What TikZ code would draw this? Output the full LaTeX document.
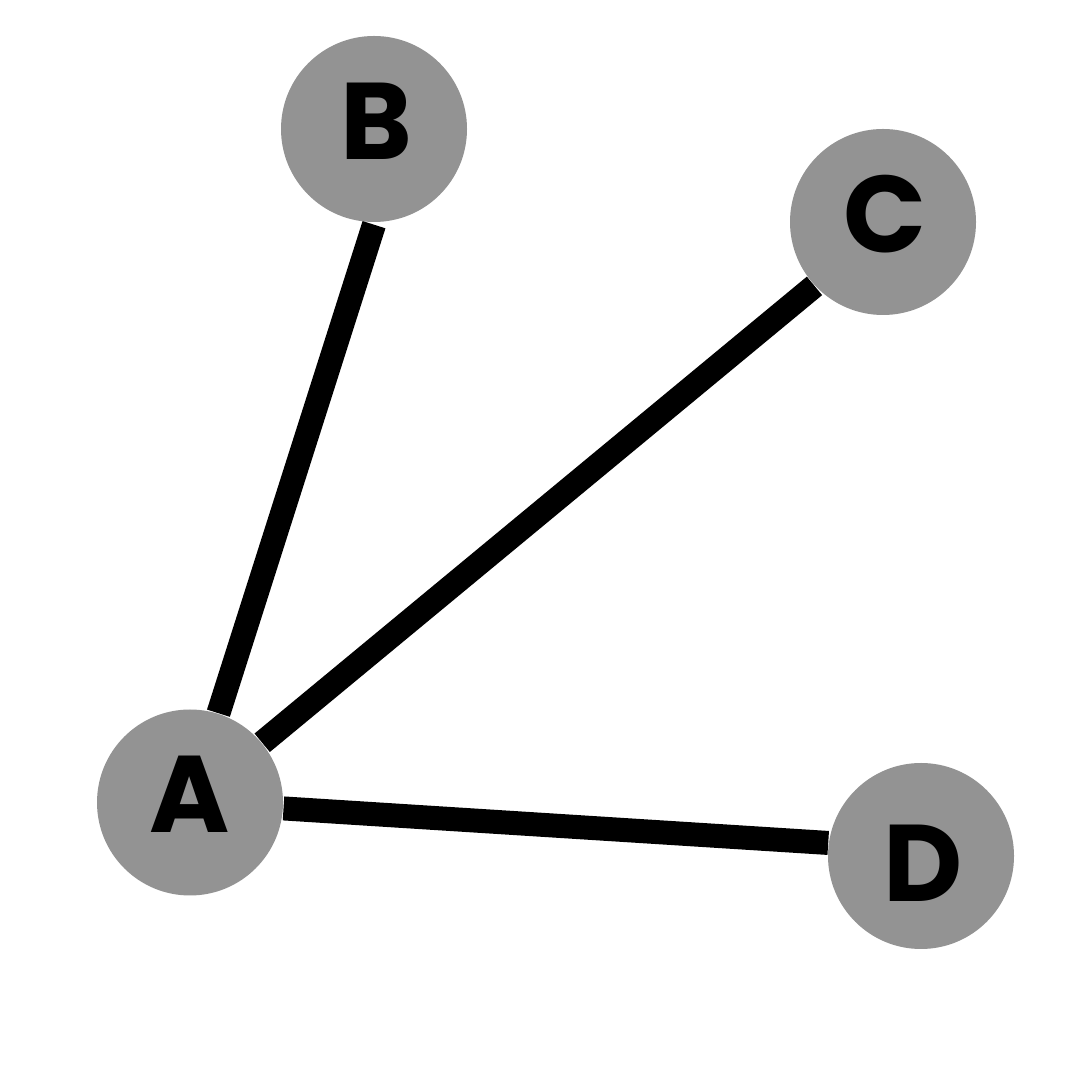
\documentclass[tikz,border=0pt]{standalone}
\usepackage{fontspec}
\setmainfont{Poppins}
\definecolor{nodegray}{HTML}{939393}
\begin{document}
\begin{tikzpicture}[x=1cm,y=1cm,
  vertex/.style={circle,fill=nodegray,minimum size=1.86cm,inner sep=0pt},
  letter/.style={inner sep=0pt,anchor=center,font=\fontsize{31}{31}\selectfont\bfseries},
  edge/.style={line width=0.24cm,black,line cap=butt}]
\useasboundingbox (0,0) rectangle (10.8,10.8);
\fill[white] (0,0) rectangle (10.8,10.8);
\node[vertex] (A) at (1.90,2.775) {};
\node[vertex] (B) at (3.74,9.51) {};
\node[vertex] (C) at (8.83,8.58) {};
\node[vertex] (D) at (9.21,2.24) {};
\draw[edge] (A) -- ([yshift=-0.02cm]B.south);
\draw[edge] (A) -- (C.223);
\draw[edge] (A) -- (D.172);
\node[letter] (la) at (1.90,2.855) {A};
\node[letter] (lb) at (3.765,9.585) {B};
\node[letter] (lc) at (8.85,8.655) {C};
\node[letter] (ld) at (9.235,2.17) {D};
\end{tikzpicture}
\end{document}
